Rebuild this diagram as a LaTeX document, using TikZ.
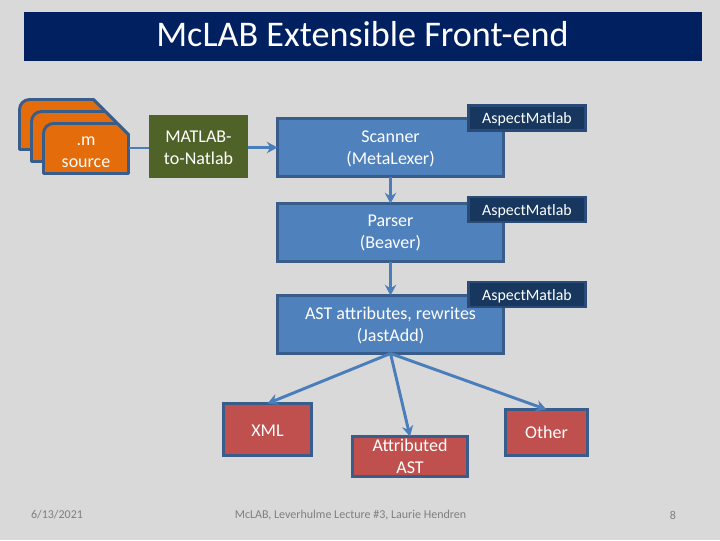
\documentclass[tikz,border=0pt]{standalone}
\usepackage{fontspec}
\setmainfont{Carlito}
\usetikzlibrary{arrows.meta}
\definecolor{slidebg}{HTML}{D9D9D9}
\definecolor{titlebar}{HTML}{002060}
\definecolor{blueline}{HTML}{4A7EBB}
\definecolor{edgeblue}{HTML}{385D8A}
\definecolor{boxblue}{HTML}{4F81BD}
\definecolor{boxred}{HTML}{C0504D}
\definecolor{boxorange}{HTML}{E46C0A}
\definecolor{boxgreen}{HTML}{4F6228}
\definecolor{boxnavy}{HTML}{17375E}
\definecolor{edgenavy}{HTML}{2A4A78}
\definecolor{footgray}{HTML}{7F7F7F}
\newcommand{\topstrut}[1]{\rule{0pt}{#1}}
\tikzset{
  x=0.75pt, y=-0.75pt,
  txt/.style={text=white, align=center, inner sep=0pt, outer sep=0pt,
    font=\fontsize{13.5pt}{16.5pt}\selectfont},
  solid box/.style={txt, draw=edgeblue, line width=2.2pt},
  bluebox/.style={solid box, fill=boxblue, minimum width=226*0.75pt, minimum height=58*0.75pt},
  redbox/.style={solid box, fill=boxred},
  navybox/.style={txt, draw=edgenavy, fill=boxnavy, line width=2.2pt,
    minimum width=117*0.75pt, minimum height=25*0.75pt,
    font=\fontsize{11.9pt}{13pt}\selectfont},
  page/.style={draw=edgeblue, fill=boxorange, line width=2.2pt, line join=round},
  link/.style={draw=blueline, line width=2.2pt},
  flow/.style={link, -{Stealth[length=8pt,width=8.5pt]}},
  foot/.style={text=footgray, inner sep=0pt, font=\fontsize{9pt}{11pt}\selectfont},
}
\newcommand{\pagepath}[2]{%
  \path[page] (#1,#2+50) -- (#1,#2+10) to[out=90,in=180] (#1+10,#2) -- (#1+74,#2) -- (#1+85,#2+11) -- (#1+85,#2+50) -- cycle;}
\begin{document}
\begin{tikzpicture}
\path[use as bounding box, fill=slidebg] (0,0) rectangle (720,540);
\node[fill=titlebar, minimum width=678*0.75pt, minimum height=49*0.75pt, inner sep=0pt] (titlebar) at (363,36.5) {};
\node[text=white, inner sep=0pt, font=\fontsize{27.1pt}{32pt}\selectfont] (title) at (362.5,34.5) {McLAB Extensible Front-end};

\pagepath{19.5}{99.5}
\pagepath{31.5}{111.5}
\pagepath{43.5}{123.5}
\node[txt, minimum width=85*0.75pt, minimum height=50*0.75pt] (source) at (86,150) {\topstrut{9.3pt}.m\\source};

\node[txt, fill=boxgreen, minimum width=99*0.75pt, minimum height=63*0.75pt] (natlab) at (198.5,146.5) {\topstrut{10.1pt}MATLAB-\\to-Natlab};

\node[bluebox] (scanner) at (390.5,147.5) {\topstrut{11.6pt}Scanner\\(MetaLexer)};
\node[bluebox] (parser) at (390.5,232.5) {\topstrut{10.1pt}Parser\\(Beaver)};
\node[bluebox] (ast) at (390.5,324.5) {\topstrut{11.4pt}AST attributes, rewrites\\(JastAdd)};

\node[redbox, minimum width=88*0.75pt, minimum height=52*0.75pt] (xml) at (267.5,429.5) {\topstrut{10.1pt}XML};
\node[redbox, minimum width=115*0.75pt, minimum height=40*0.75pt] (attr) at (410,456.5) {Attributed\\AST};
\node[redbox, minimum width=82*0.75pt, minimum height=46*0.75pt] (other) at (546.5,432.5) {Other};

\draw[link] (source.east |- natlab.center) ++(0,1.5) coordinate (srcout) -- (srcout -| natlab.west);
\draw[flow] (natlab.east) ++(0,1) coordinate (natout) -- (natout -| scanner.west);
\draw[flow] (scanner.south) -- (parser.north);
\draw[flow] (parser.south) -- (ast.north);
\draw[flow] (ast.south) -- (xml.north);
\draw[flow] (ast.south) -- (attr.north);
\draw[flow] (ast.south) -- (other.north);

\node[navybox] (asp1) at (527,118) {\topstrut{10.2pt}AspectMatlab};
\node[navybox] (asp2) at (527,209.5) {\topstrut{10.2pt}AspectMatlab};
\node[navybox] (asp3) at (527,294.5) {\topstrut{10.2pt}AspectMatlab};

\node[foot] (date) at (57,515) {6/13/2021};
\node[foot] (footer) at (350.5,515) {McLAB, Leverhulme Lecture \#3, Laurie Hendren};
\node[foot] (num) at (673,515) {8};
\end{tikzpicture}
\end{document}
